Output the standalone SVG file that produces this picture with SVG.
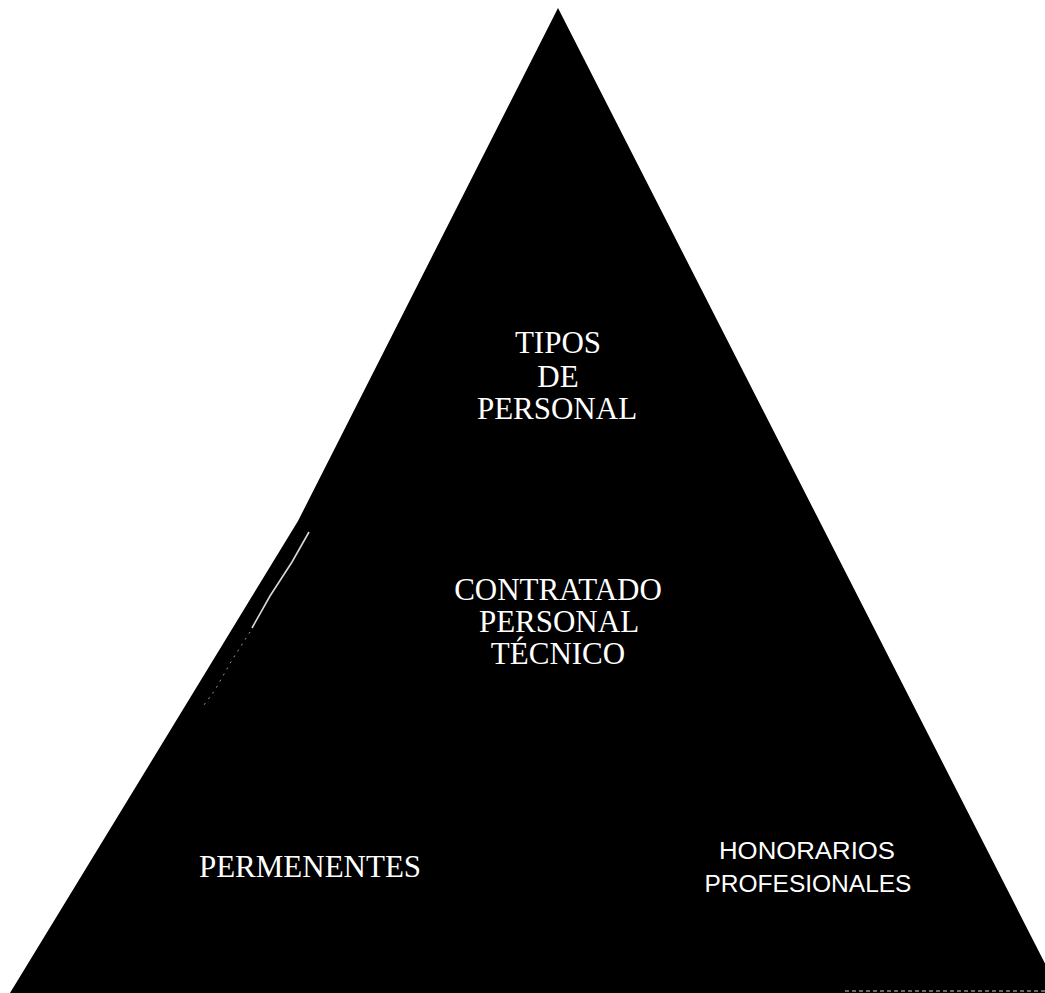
<svg xmlns="http://www.w3.org/2000/svg" width="1045" height="993" viewBox="0 0 1045 993">
<style>
.serif{font-family:"Liberation Serif","Times New Roman",serif;font-size:31px;fill:#ffffff;text-anchor:middle}
.sans{font-family:"Liberation Sans",Arial,sans-serif;font-size:24.5px;fill:#ffffff;text-anchor:middle}
</style>
<rect width="1045" height="993" fill="#ffffff"/>
<g id="pyramid">
<polygon points="558,8 298,521 10,993 1060,993" fill="#000000"/>
<path d="M309,532 L292,562 L270,596 L252,628" stroke="#d8d8d8" stroke-width="1.6" fill="none"/>
<path d="M250,632 L232,660 L215,690 L204,705" stroke="#9a9a9a" stroke-width="1" stroke-dasharray="2,5" fill="none"/>
<line x1="845" y1="991" x2="1045" y2="991" stroke="#8a8a8a" stroke-width="1.5" stroke-dasharray="4,3"/>
</g>
<g id="node-tipos">
<text class="serif" x="558" y="353">TIPOS</text>
<text class="serif" x="558" y="387">DE</text>
<text class="serif" x="557" y="419">PERSONAL</text>
</g>
<g id="node-contratado">
<text class="serif" x="558" y="600">CONTRATADO</text>
<text class="serif" x="559" y="632">PERSONAL</text>
<text class="serif" x="558" y="664">TÉCNICO</text>
</g>
<g id="node-permanentes">
<text class="serif" x="310" y="877">PERMENENTES</text>
</g>
<g id="node-honorarios">
<text class="sans" x="807" y="859" textLength="176" lengthAdjust="spacingAndGlyphs">HONORARIOS</text>
<text class="sans" x="808" y="892">PROFESIONALES</text>
</g>
<g id="connectors"/>
</svg>
